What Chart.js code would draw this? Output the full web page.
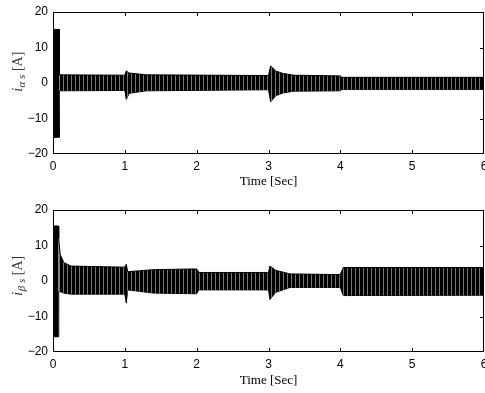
<!DOCTYPE html>
<html>
<head>
<meta charset="utf-8">
<script src="https://cdn.jsdelivr.net/npm/chart.js@4.4.0/dist/chart.umd.min.js"></script>
<style>
  html, body { margin: 0; padding: 0; background: #fff; }
  #wrap { position: relative; width: 485px; height: 393px; }
  canvas { position: absolute; left: 0; }
</style>
</head>
<body>
<div id="wrap">
  <canvas id="alphaChart" width="485" height="196" style="top:0"></canvas>
  <canvas id="betaChart" width="485" height="197" style="top:196px"></canvas>
</div>
<script>
// Envelope of the stator currents (time in s, current in A)
const timeAlpha  = [0.01, 0.085, 0.09, 1.0, 1.02, 1.06, 1.3, 3.0, 3.03, 3.1, 3.2, 3.35, 4.0, 4.02, 6.0];
const upperAlpha = [15.1, 15.1,  2.3,  2.2, 3.4,  2.8,  2.3, 2.1, 4.8,  3.4, 2.7, 2.2,  2.0, 1.6,  1.6];
const lowerAlpha = [-15.3, -15.3, -2.2, -2.1, -4.6, -2.9, -2.2, -1.9, -5.3, -3.6, -2.8, -2.3, -2.2, -1.8, -1.8];

const timeBeta  = [0.005, 0.075, 0.08, 0.1, 0.15, 0.25, 1.0, 1.02, 1.04, 1.4, 2.0, 2.03, 3.0, 3.02, 3.1, 3.3, 4.0, 4.04, 6.0];
const upperBeta = [15.5, 15.5, 12.0, 7.5, 5.2, 4.2, 3.9, 4.7, 2.6, 3.2, 3.4, 2.4, 2.4, 4.2, 3.0, 2.0, 1.8, 3.8, 3.8];
const lowerBeta = [-15.7, -15.7, -3.0, -3.0, -3.4, -3.7, -3.7, -6.2, -2.5, -3.4, -3.6, -2.5, -2.5, -5.2, -3.2, -1.8, -1.8, -4.1, -4.0];

const xTicks = [0, 1, 2, 3, 4, 5, 6];
const yTicks = [-20, -10, 0, 10, 20];
const xTitle = 'Time [Sec]';

const tickFont = { family: "'Liberation Sans', Arial, sans-serif", size: 12 };

// dense oscillation drawn as fine vertical hatching
function stripes(ctx) {
  const p = document.createElement('canvas');
  p.width = 4; p.height = 1;
  const g = p.getContext('2d');
  g.fillStyle = '#000'; g.fillRect(0, 0, 3, 1);
  g.fillStyle = '#777'; g.fillRect(3, 0, 1, 1);
  return ctx.createPattern(p, 'repeat');
}

// MATLAB-like box with inward ticks, plus the axis labels
const matlabBox = {
  id: 'matlabBox',
  afterDraw(chart, args, opts) {
    const { ctx, chartArea: a, scales: { x, y } } = chart;
    ctx.save();
    ctx.strokeStyle = '#000';
    ctx.lineWidth = 1;
    ctx.strokeRect(a.left + 0.5, a.top + 0.5, a.right - a.left - 1, a.bottom - a.top - 1);
    ctx.beginPath();
    xTicks.slice(1, -1).forEach(v => {
      const px = Math.round(x.getPixelForValue(v)) + 0.5;
      ctx.moveTo(px, a.bottom); ctx.lineTo(px, a.bottom - 4);
      ctx.moveTo(px, a.top); ctx.lineTo(px, a.top + 4);
    });
    yTicks.slice(1, -1).forEach(v => {
      const py = Math.round(y.getPixelForValue(v)) + 0.5;
      ctx.moveTo(a.left, py); ctx.lineTo(a.left + 4, py);
      ctx.moveTo(a.right, py); ctx.lineTo(a.right - 4, py);
    });
    ctx.stroke();

    // x title
    ctx.fillStyle = '#000';
    ctx.font = '13px "Liberation Serif", "Times New Roman", serif';
    ctx.textAlign = 'center';
    ctx.textBaseline = 'middle';
    ctx.fillText(xTitle, (a.left + a.right) / 2, a.bottom + opts.titleOffset);

    // y label: i_{alpha s} [A]
    ctx.translate(18, (a.top + a.bottom) / 2 - opts.labelShift);
    ctx.rotate(-Math.PI / 2);
    ctx.fillStyle = '#333';
    const fMain = 'italic 14px "Liberation Serif", serif';
    const fSub = 'italic 11px "Liberation Serif", serif';
    const fUnit = '14px "Liberation Serif", serif';
    ctx.textAlign = 'left';
    ctx.font = fMain; const w1 = ctx.measureText('i').width;
    ctx.font = fSub; const w2 = ctx.measureText(opts.sub).width;
    ctx.font = fUnit; const w3 = ctx.measureText(' [A]').width;
    let sx = -(w1 + w2 + w3) / 2;
    ctx.font = fMain; ctx.fillText('i', sx, 0); sx += w1 + 0.5;
    ctx.font = fSub; ctx.fillText(opts.sub, sx, 4); sx += w2;
    ctx.font = fUnit; ctx.fillText(' [A]', sx, 0);
    ctx.restore();
  }
};

function makeChart(id, times, upper, lower, padTop, axisH, sub, titleOffset, labelShift) {
  const canvas = document.getElementById(id);
  const ctx = canvas.getContext('2d');
  const hatch = stripes(ctx);
  const burstEnd = times[1];
  return new Chart(canvas, {
    type: 'line',
    data: {
      datasets: [{
        data: times.map((t, i) => ({ x: t, y: upper[i] })),
        borderColor: '#000',
        borderWidth: 1,
        backgroundColor: hatch,
        fill: '+1',
        pointRadius: 0,
        tension: 0,
        // start-up burst is drawn solid
        segment: { backgroundColor: c => c.p0.parsed.x < burstEnd ? '#000' : hatch }
      }, {
        data: times.map((t, i) => ({ x: t, y: lower[i] })),
        borderColor: '#000',
        borderWidth: 1,
        fill: false,
        pointRadius: 0,
        tension: 0
      }]
    },
    options: {
      responsive: false,
      animation: false,
      layout: { padding: { top: padTop, right: 1, left: 0, bottom: 0 } },
      plugins: {
        legend: { display: false },
        tooltip: { enabled: false },
        matlabBox: { sub: sub, titleOffset: titleOffset, labelShift: labelShift }
      },
      scales: {
        x: {
          type: 'linear',
          min: 0, max: 6,
          afterBuildTicks: s => { s.ticks = xTicks.map(v => ({ value: v })); },
          ticks: { font: tickFont, color: '#000', padding: 5, maxRotation: 0, autoSkip: false },
          grid: { display: false, drawTicks: false },
          border: { display: false },
          afterFit: s => { s.height = axisH; s.paddingLeft = 0; s.paddingRight = 0; }
        },
        y: {
          min: -20, max: 20,
          afterBuildTicks: s => { s.ticks = yTicks.map(v => ({ value: v })); },
          ticks: {
            font: tickFont, color: '#000', padding: 5,
            callback: v => String(v).replace('-', '\u2212')
          },
          grid: { display: false, drawTicks: false },
          border: { display: false },
          afterFit: s => { s.width = 53; s.paddingTop = 0; s.paddingBottom = 0; }
        }
      }
    },
    plugins: [matlabBox]
  });
}

makeChart('alphaChart', timeAlpha, upperAlpha, lowerAlpha, 12, 42, '\u03b1 s', 28, 11);
makeChart('betaChart', timeBeta, upperBeta, lowerBeta, 14, 41, '\u03b2 s', 29, 5);
</script>
</body>
</html>
